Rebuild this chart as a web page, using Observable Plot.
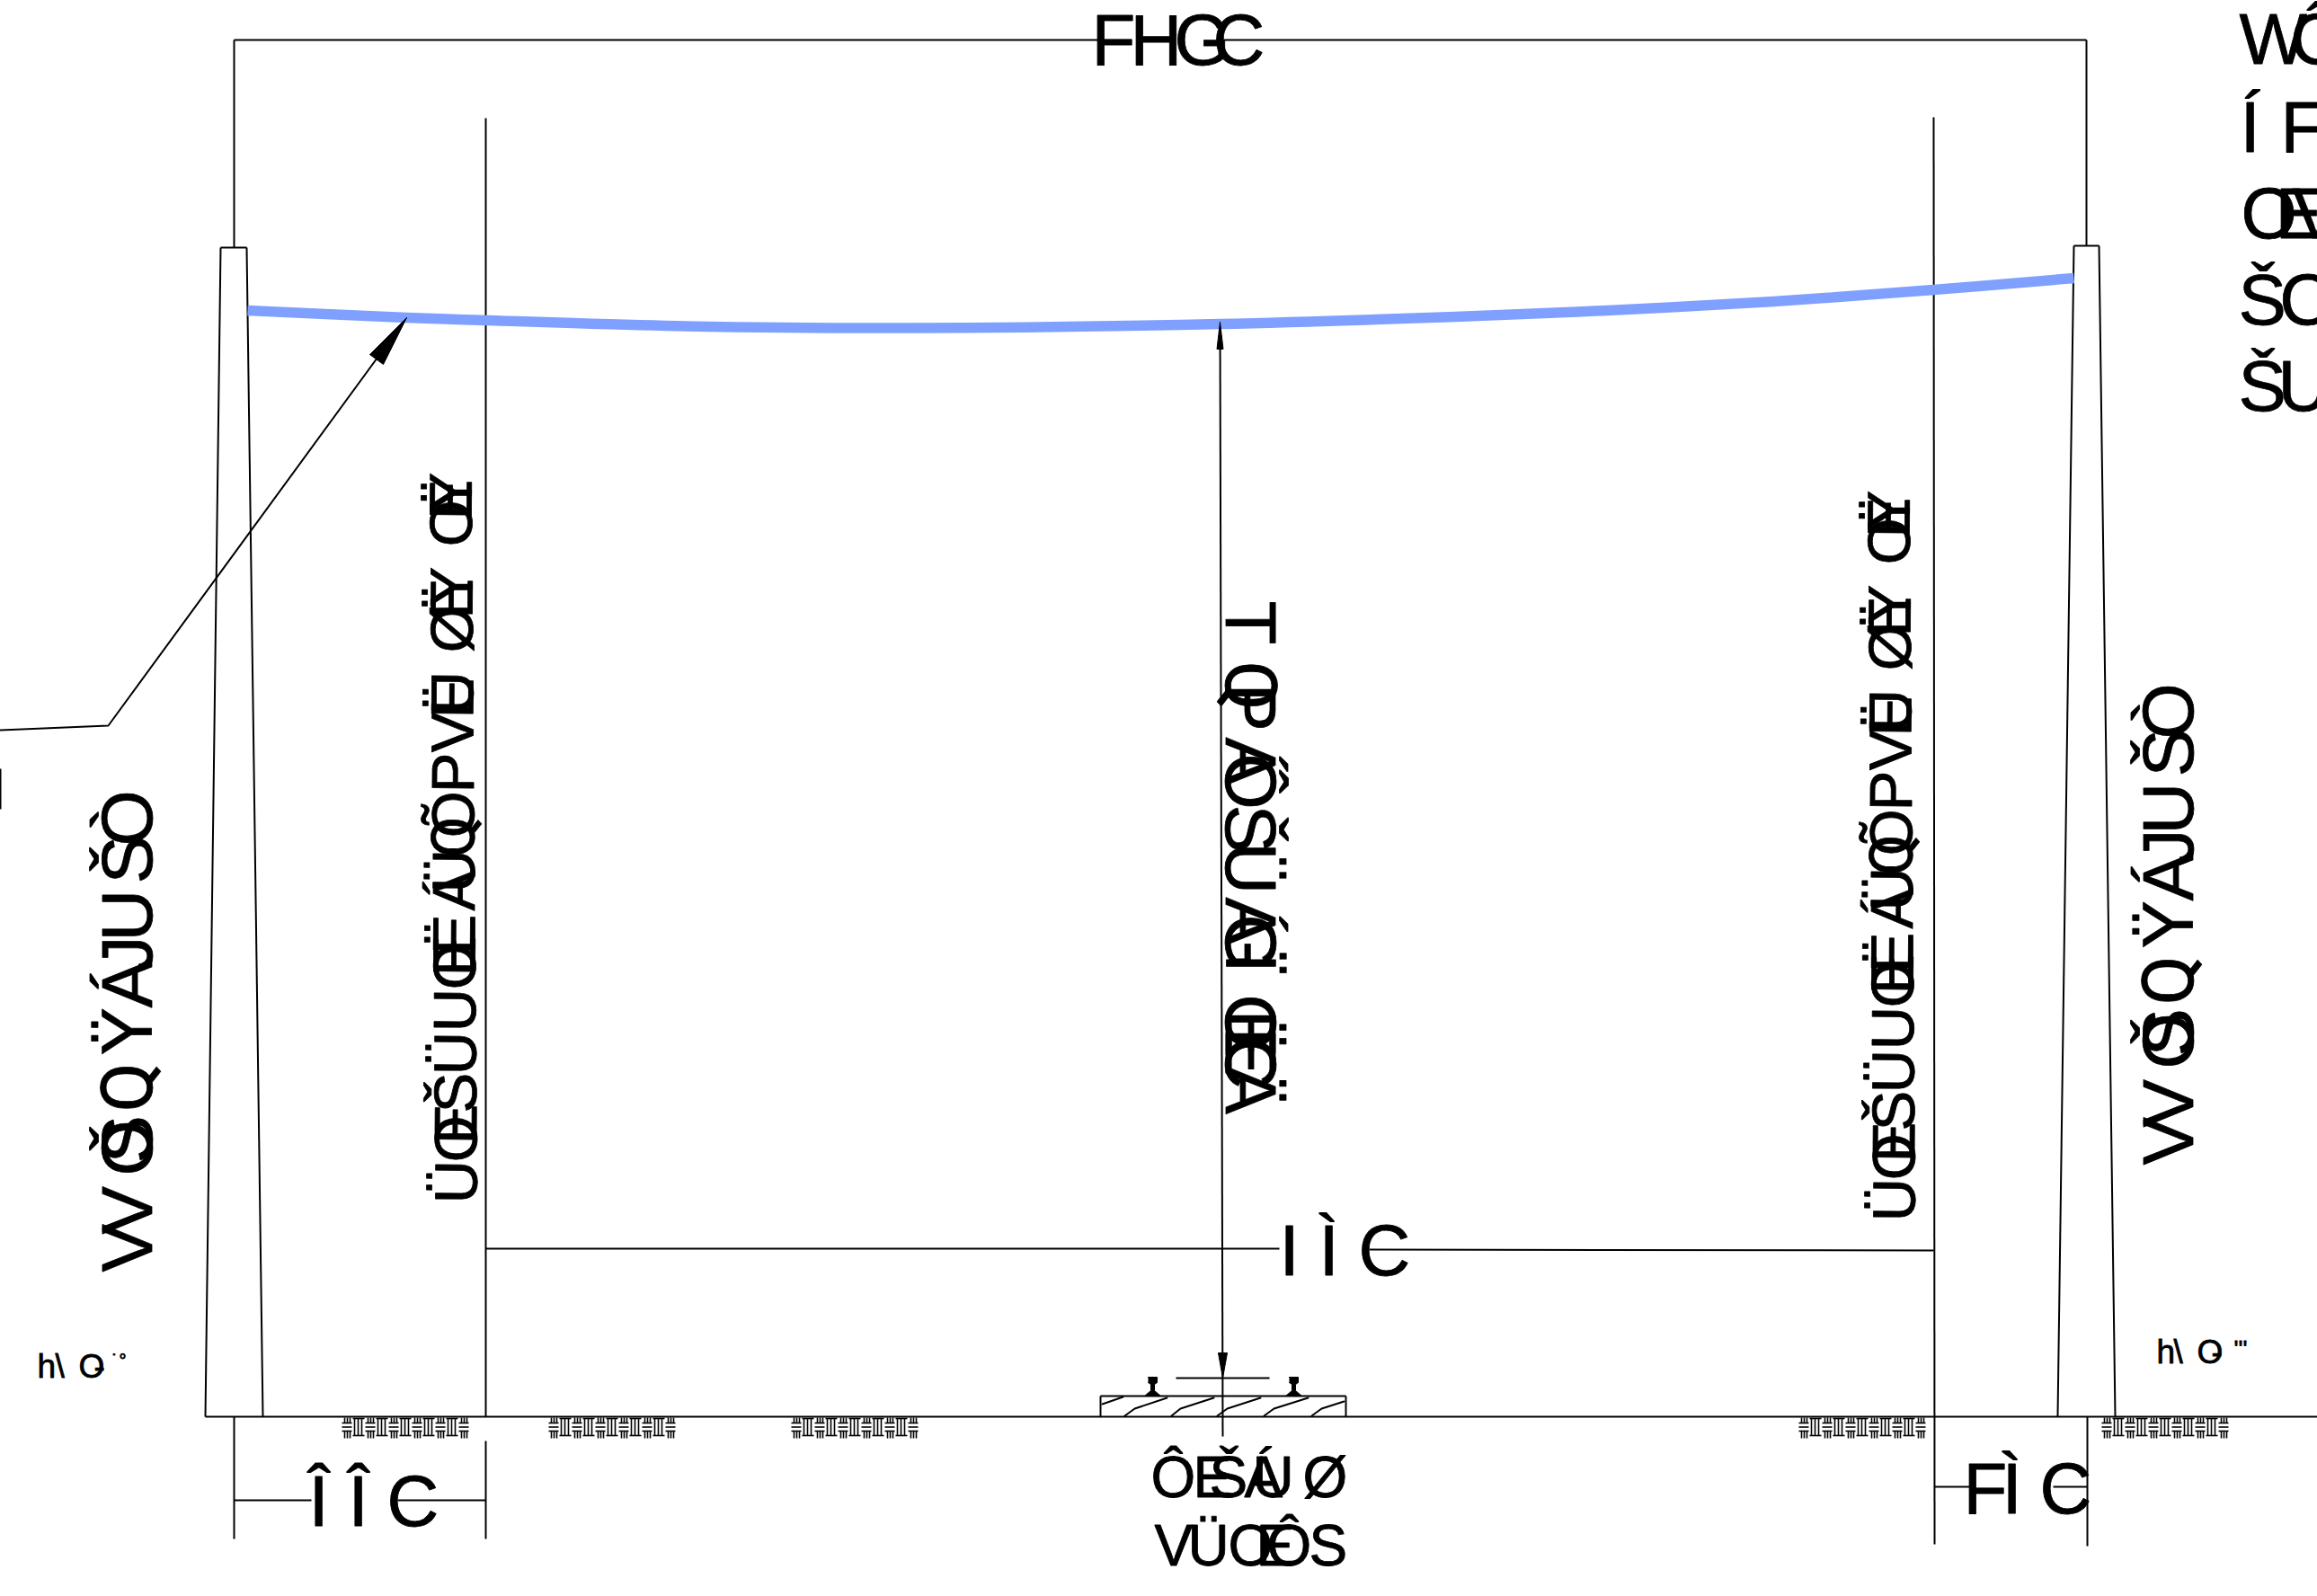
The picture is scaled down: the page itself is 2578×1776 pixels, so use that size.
<!DOCTYPE html>
<html>
<head>
<meta charset="utf-8">
<style>html,body{margin:0;padding:0;background:#fff}svg{display:block}</style>
<script src="https://cdn.jsdelivr.net/npm/d3@7"></script>
<script src="https://cdn.jsdelivr.net/npm/@observablehq/plot@0.6"></script>
</head>
<body>
<script>
// Straight segments of the drawing: [x1, y1, x2, y2]
const topDimension = [[260,44,1222,44],[1358,44,2321,44],[260,44,260,275],[2321,44,2321,273]];
const leftPole = [[245,275,274,275],[245,275,228,1576],[274,275,292,1576]];
const rightPole = [[2307,273,2335,273],[2307,273,2289,1576],[2335,273,2353,1576]];
const ground = [[228,1576,2578,1576]];
const clearanceLines = [[540,131,540,1576],[2151,130,2152,1718]];
const heightLine = [[1357,358,1360,1598],[1308,1533,1412,1533]];
const spanDimension = [[540,1389,1423,1389],[1523,1390,2151,1391]];
const leftOffset = [[260,1576,260,1712],[540,1603,540,1712],[260,1669,346,1669],[442,1669,540,1669]];
const rightOffset = [[2322,1576,2322,1720],[2152,1654,2191,1654],[2284,1654,2322,1654]];
const sleeperBox = [[1224,1553,1497,1553],[1224,1553,1224,1576],[1497,1553,1497,1576]];
const edgeTick = [[0,855,0,900]];

// Polylines
const leaderLine = [[0,812],[120,807],[452,353]];
const sleeperHatch = [
  [[1226,1562],[1249,1554]],
  [[1251,1575],[1262,1567],[1298,1555]],
  [[1303,1575],[1313,1567],[1350,1555]],
  [[1354,1575],[1365,1567],[1402,1555]],
  [[1406,1575],[1417,1567],[1455,1555]],
  [[1459,1575],[1470,1567],[1495,1559]]
];
// Filled outlines
const arrowHeads = [
  [[452,353],[411,394],[426,405]],
  [[1357,358],[1353.5,388],[1360.5,388]],
  [[1360,1533],[1355,1505],[1365,1505]]
];
const railCentres = [1282,1439];
const railOutline = [[-5,1532],[5,1532],[5,1538],[2,1540],[2,1547],[9,1553],[-9,1553],[-2,1547],[-2,1540],[-5,1538]];

// Wire
const wireX = [275,452,543,740,986,1357,1644,1808,1973,2151,2307];
const wireY = [345,353,356,362,364.5,360,351,344,335,322,309];

// Earth symbols
const earthStarts = [380,610,880,2001,2338];
const earthPeriods = [0,1,2,3,4,5];

// Labels: glyphs, start position of each glyph along the run, baseline
const poleGlyphs = ["V","V","O","Š","Q","Ÿ","Á","J","U","Š","Ò"];
const clearanceGlyphs = ["Ü","O","E","Š","Ü","U","O","E","Ë","Á","Ü","Q","Õ","P","V","Ë","U","Ø","Ë","Y","O","E","Ÿ"];
const runs = [
  {g:["F","H","G","C"], at:[1214,1257,1306,1349], line:[71,71], angle:0, size:80},
  {g:["I","Ì","C"], at:[1423,1467,1511], line:[1418,1418], angle:0, size:80},
  {g:["Î","Î","C"], at:[343,387,430], line:[1697,1697], angle:0, size:80},
  {g:["F","Ì","C"], at:[2184,2227,2269], line:[1683,1683], angle:0, size:80},
  {g:["W","Ô"], at:[2491,2548], line:[70,70], angle:0, size:80},
  {g:["Í","F"], at:[2492,2537], line:[168,168], angle:0, size:80},
  {g:["O","E","V"], at:[2493,2531,2550], line:[264,264], angle:0, size:80},
  {g:["Š","O"], at:[2490,2536], line:[360,360], angle:0, size:80},
  {g:["Š","U"], at:[2490,2534], line:[456,456], angle:0, size:80},
  {g:["Ô","E","Š","Á","U","Ø"], at:[1280,1327,1345,1384,1393,1449], line:[1665,1665], angle:0, size:64},
  {g:["V","Ü","O","E","Ô","S"], at:[1284,1321,1366,1397,1409,1456], line:[1741,1741], angle:0, size:64},
  {g:["h","\\","O","-"], at:[41,61,87,104], line:[1532,1532], angle:0, size:37},
  {g:["˙","°"], at:[124,132], line:[1520,1520], angle:0, size:20},
  {g:["h","\\","O","-"], at:[2399,2418,2444,2460], line:[1516,1516], angle:0, size:37},
  {g:["'","'","'"], at:[2485,2490,2495], line:[1509,1509], angle:0, size:26},
  {g:poleGlyphs, at:[1415,1373,1308,1294,1237,1174,1121,1081,1047,983,941], line:[168,168], angle:-90, size:80},
  {g:poleGlyphs, at:[1296,1254,1189,1175,1118,1055,1002,962,928,864,822], line:[2439,2439], angle:-90, size:80},
  {g:clearanceGlyphs,
   at:[1339,1293,1273,1238,1196,1148,1101,1086,1062,1013,993,954,932,882,837,799,795,726,688,675,608,578,570],
   line:[530,524], angle:-89.6, size:67},
  {g:clearanceGlyphs,
   at:[1359,1313,1293,1258,1216,1168,1121,1106,1082,1033,1013,974,952,902,857,819,815,746,708,695,628,598,590],
   line:[2130,2124], angle:-89.6, size:67},
  {g:["T","Q","P","Á","Ô","Š","Ü","Á","G","Ï","O","Ë","E","C","Ä"],
   at:[668,735,760,820,838,895,937,998,1017,1060,1106,1123,1143,1153,1186],
   line:[1363,1363], angle:90, size:80}
];

// Build tables for the library
const seg = a => a.map(([x1,y1,x2,y2]) => ({x1,y1,x2,y2}));
const segments = seg([...topDimension,...leftPole,...rightPole,...ground,...clearanceLines,...heightLine,
  ...spanDimension,...leftOffset,...rightOffset,...sleeperBox,...edgeTick]);
const poly = (lists) => lists.flatMap((pts,id) => pts.map(([x,y]) => ({x,y,id})));
const wire = wireX.map((x,i) => ({x,y:wireY[i]}));
const rails = railCentres.flatMap((c,id) => railOutline.map(([dx,y]) => ({x:c+dx,y,id})));

const earth = [];
for (const s of earthStarts) for (const b of earthPeriods) {
  const x = s + b*26;
  for (const y of [1583,1587.5,1592]) earth.push({x1:x,y1:y,x2:x+11,y2:y});
  for (const dx of [3,6,9]) {
    earth.push({x1:x+dx,y1:1577,x2:x+dx,y2:1583});
    earth.push({x1:x+dx,y1:1592,x2:x+dx,y2:1600});
  }
  if (b < 5) {
    for (const dx of [14,18,22]) earth.push({x1:x+dx,y1:1578,x2:x+dx,y2:1597});
    earth.push({x1:x+12,y1:1578,x2:x+25,y2:1578});
    earth.push({x1:x+12,y1:1597,x2:x+25,y2:1597});
  }
}

const glyphs = runs.flatMap(r => r.g.map((t,i) => {
  const vertical = Math.abs(r.angle) > 45;
  const hi = Math.max(...r.at), lo = Math.min(...r.at);
  const f = (hi - r.at[i]) / (hi - lo);
  const base = r.line[0] + (r.line[1] - r.line[0]) * f;
  return vertical
    ? {t, x: base, y: r.at[i], angle: r.angle, size: r.size}
    : {t, x: r.at[i], y: base, angle: r.angle, size: r.size};
}));

const chart = Plot.plot({
  width: 2578, height: 1776,
  marginTop: 0, marginRight: 0, marginBottom: 0, marginLeft: 0,
  x: {domain: [0,2578], range: [0,2578], axis: null},
  y: {domain: [0,1776], range: [0,1776], axis: null},
  style: {background: "#fff"},
  marks: [
    Plot.link(earth, {x1:"x1",y1:"y1",x2:"x2",y2:"y2",stroke:"#000",strokeWidth:1.6}),
    Plot.link(segments, {x1:"x1",y1:"y1",x2:"x2",y2:"y2",stroke:"#000",strokeWidth:2}),
    Plot.line(poly([leaderLine,...sleeperHatch]), {x:"x",y:"y",z:"id",stroke:"#000",strokeWidth:2}),
    Plot.line(wire, {x:"x",y:"y",stroke:"#80A0FF",strokeWidth:11.5,curve:"catmull-rom",strokeLinecap:"butt"}),
    Plot.line(poly(arrowHeads.map(p => [...p,p[0]])), {x:"x",y:"y",z:"id",stroke:"#000",strokeWidth:1,fill:"#000"}),
    Plot.line(rails, {x:"x",y:"y",z:"id",stroke:"#000",strokeWidth:1,fill:"#000"}),
    Plot.text(glyphs, {filter:d=>d.t!=="Q",x:"x",y:"y",text:"t",rotate:d=>d.angle,fontSize:d=>d.size,
      fontFamily:"Liberation Sans",textAnchor:"start",lineAnchor:"bottom",fill:"#000",stroke:"#000",strokeWidth:0.8}),
    Plot.text(glyphs, {filter:d=>d.t==="Q",x:"x",y:"y",text:"t",rotate:d=>d.angle,fontSize:d=>d.size,
      fontFamily:"Roboto",textAnchor:"start",lineAnchor:"bottom",fill:"#000",stroke:"#000",strokeWidth:0.8})
  ]
});
document.body.appendChild(chart);
</script>
</body>
</html>
